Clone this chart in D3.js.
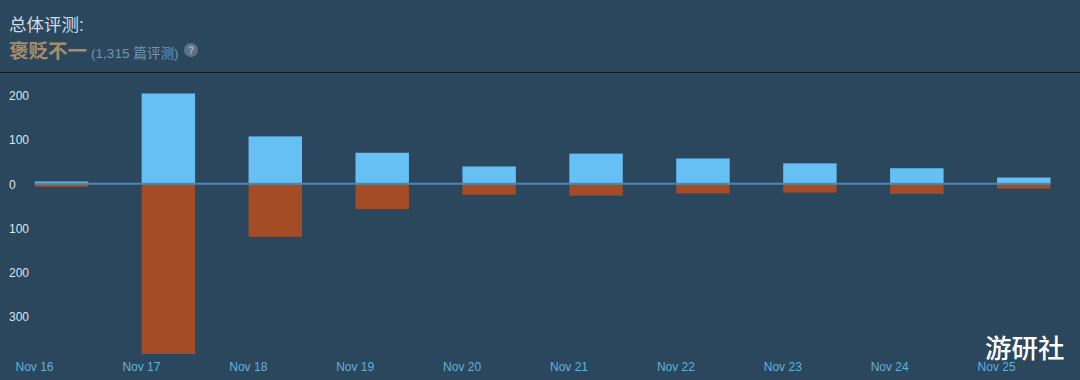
<!DOCTYPE html>
<html>
<head>
<meta charset="utf-8">
<script src="https://cdn.jsdelivr.net/npm/d3@7"></script>
<style>
  html, body { margin: 0; padding: 0; background: #2a475e; }
  svg { display: block; }
  text { font-family: "Liberation Sans", Arial, sans-serif; }
  .cjk { font-family: "Liberation Sans", "Noto Sans CJK SC", sans-serif; }
</style>
</head>
<body>
<div id="chart"></div>
<script>
var days = ["Nov 16", "Nov 17", "Nov 18", "Nov 19", "Nov 20", "Nov 21", "Nov 22", "Nov 23", "Nov 24", "Nov 25"];
var upVotes = [5, 204, 107, 70, 39, 68, 57, 46, 35, 14];
var downVotes = [7, 385, 120, 57, 25, 27, 22, 20, 23, 11];
var yTicks = [200, 100, 0, -100, -200, -300];

var width = 1080, height = 380;

var svg = d3.select("#chart").append("svg")
    .attr("width", width)
    .attr("height", height)
    .attr("viewBox", "0 0 " + width + " " + height);

// header
svg.append("text").attr("class", "cjk")
    .attr("x", 9).attr("y", 31)
    .attr("font-size", 17.5).attr("fill", "#d3dde5")
    .text("总体评测:");

svg.append("text").attr("class", "cjk")
    .attr("x", 9).attr("y", 58)
    .attr("font-size", 19.5).attr("font-weight", "bold").attr("fill", "#a68d65")
    .text("褒贬不一");

svg.append("text").attr("class", "cjk")
    .attr("x", 91).attr("y", 58)
    .attr("font-size", 13.6).attr("fill", "#7294ac")
    .text("(1,315 篇评测)");

svg.append("circle")
    .attr("cx", 191).attr("cy", 50).attr("r", 7)
    .attr("fill", "#5d7286");
svg.append("text")
    .attr("x", 191).attr("y", 54)
    .attr("text-anchor", "middle").attr("font-size", 10).attr("font-weight", "bold")
    .attr("fill", "#a9b6c2")
    .text("?");

svg.append("rect")
    .attr("x", 0).attr("y", 72).attr("width", width).attr("height", 1)
    .attr("fill", "#0e1a26");

// scales
var x = d3.scaleBand()
    .domain(days)
    .range([34.7, 1050.5])
    .paddingInner(0.5)
    .paddingOuter(0);

var xLabels = d3.scalePoint()
    .domain(days)
    .range([34, 34 + 106.9 * 9]);

var y = d3.scaleLinear()
    .domain([-385, 204])
    .range([354, 93.5]);

// bars
svg.selectAll(".up")
    .data(days)
    .enter().append("rect")
    .attr("class", "up")
    .attr("x", function(d) { return x(d); })
    .attr("width", x.bandwidth())
    .attr("y", function(d, i) { return y(upVotes[i]); })
    .attr("height", function(d, i) { return y(0) - y(upVotes[i]); })
    .attr("fill", "#66c0f4");

svg.selectAll(".down")
    .data(days)
    .enter().append("rect")
    .attr("class", "down")
    .attr("x", function(d) { return x(d); })
    .attr("width", x.bandwidth())
    .attr("y", y(0))
    .attr("height", function(d, i) { return y(-downVotes[i]) - y(0); })
    .attr("fill", "#a34c25");

// zero line
svg.append("line")
    .attr("x1", 35).attr("x2", 1050.5)
    .attr("y1", y(0)).attr("y2", y(0))
    .attr("stroke", "#4c87ae").attr("stroke-width", 2);

// axes
var yAxis = d3.axisLeft(y)
    .tickValues(yTicks)
    .tickSize(0)
    .tickFormat(function(d) { return Math.abs(d); });

var yG = svg.append("g").attr("transform", "translate(9,0.5)").call(yAxis);
yG.select(".domain").remove();
yG.selectAll("text")
    .attr("x", 0)
    .attr("text-anchor", "start")
    .attr("font-size", 12)
    .attr("font-family", "Liberation Sans")
    .attr("fill", "#dfe5ea");

var xAxis = d3.axisBottom(xLabels).tickSize(0);

var xG = svg.append("g").attr("transform", "translate(0,359)").call(xAxis);
xG.select(".domain").remove();
xG.selectAll("text")
    .attr("font-size", 12)
    .attr("font-family", "Liberation Sans")
    .attr("fill", "#66b0dc");

// watermark
svg.append("text").attr("class", "cjk")
    .attr("x", 985).attr("y", 358)
    .attr("font-size", 26.5).attr("font-weight", "500").attr("fill", "#ffffff")
    .text("游研社");
</script>
</body>
</html>
